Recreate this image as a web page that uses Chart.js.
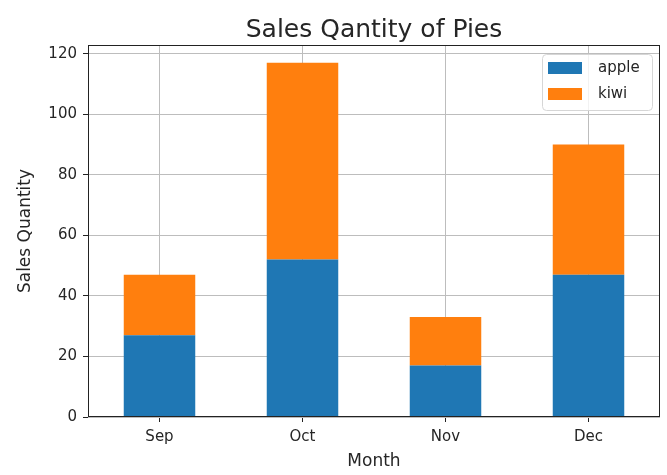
<!DOCTYPE html>
<html>
<head>
<meta charset="utf-8">
<script src="https://cdn.jsdelivr.net/npm/chart.js@4"></script>
<style>
  html, body { margin: 0; padding: 0; background: #fff; }
  canvas { display: block; }
</style>
</head>
<body>
<canvas id="pieChart" width="667" height="475"></canvas>
<script>
// Chart data
const months = ['Sep', 'Oct', 'Nov', 'Dec'];
const appleSales = [27, 52, 17, 47];
const kiwiSales = [20, 65, 16, 43];
const yTicks = [0, 20, 40, 60, 80, 100, 120];

const textColor = '#262626';
const gridColor = '#bdbdbd';
const fontFamily = '"DejaVu Sans", sans-serif';

// Title, plot frame and legend drawn the matplotlib way
const frameAndLegend = {
    id: 'frameAndLegend',
    afterDraw(chart) {
        const { ctx, chartArea: a } = chart;
        ctx.save();

        // title centered over the plot area
        ctx.fillStyle = textColor;
        ctx.font = '25px ' + fontFamily;
        ctx.textAlign = 'center';
        ctx.textBaseline = 'alphabetic';
        ctx.fillText('Sales Qantity of Pies', (a.left + a.right) / 2, 37);

        // frame
        ctx.strokeStyle = '#222';
        ctx.lineWidth = 1;
        ctx.strokeRect(a.left + 0.5, a.top + 0.5, a.right - a.left - 1, a.bottom - a.top - 1);

        // legend box
        const bx = 542, by = 54, bw = 110, bh = 56;
        ctx.beginPath();
        ctx.roundRect(bx + 0.5, by + 0.5, bw, bh, 4);
        ctx.fillStyle = 'rgba(255,255,255,0.8)';
        ctx.fill();
        ctx.strokeStyle = '#d6d6d6';
        ctx.stroke();

        ctx.font = '15px ' + fontFamily;
        ctx.textAlign = 'left';
        ctx.textBaseline = 'middle';
        chart.data.datasets.forEach((ds, i) => {
            const y = by + 8 + i * 26;
            ctx.fillStyle = ds.backgroundColor;
            ctx.fillRect(bx + 6, y, 34, 12);
            ctx.fillStyle = textColor;
            ctx.fillText(ds.label, bx + 56, y + 6);
        });
        ctx.restore();
    }
};

const ctx = document.getElementById('pieChart').getContext('2d');

const pieChart = new Chart(ctx, {
    type: 'bar',
    data: {
        labels: months,
        datasets: [
            {
                label: 'apple',
                data: appleSales,
                backgroundColor: '#1f77b4',
                barPercentage: 0.5,
                categoryPercentage: 1
            },
            {
                label: 'kiwi',
                data: kiwiSales,
                backgroundColor: '#ff7f0e',
                barPercentage: 0.5,
                categoryPercentage: 1
            }
        ]
    },
    options: {
        responsive: false,
        animation: false,
        layout: { padding: { left: 0, right: 7, top: 45, bottom: 0 } },
        scales: {
            x: {
                stacked: true,
                z: 1,
                grid: { color: gridColor, offset: false, tickLength: 5, tickColor: '#222', lineWidth: 1 },
                border: { display: false },
                ticks: { color: textColor, padding: 6, font: { family: fontFamily, size: 15 } },
                title: {
                    display: true,
                    text: 'Month',
                    color: textColor,
                    padding: { top: 0, bottom: 3 },
                    font: { family: fontFamily, size: 17 }
                },
                afterFit(scale) { scale.height = 58; }
            },
            y: {
                stacked: true,
                z: 1,
                min: 0,
                max: 122.85,
                afterBuildTicks(scale) {
                    scale.ticks = yTicks.map(v => ({ value: v }));
                },
                grid: { color: gridColor, tickLength: 5, tickColor: '#222', lineWidth: 1 },
                border: { display: false },
                ticks: { color: textColor, padding: 6, font: { family: fontFamily, size: 15 } },
                title: {
                    display: true,
                    text: 'Sales Quantity',
                    color: textColor,
                    padding: { top: 15, bottom: 0 },
                    font: { family: fontFamily, size: 17 }
                },
                afterFit(scale) { scale.width = 88; }
            }
        },
        plugins: {
            legend: { display: false },
            title: { display: false },
            tooltip: { enabled: false }
        }
    },
    plugins: [frameAndLegend]
});
</script>
</body>
</html>
